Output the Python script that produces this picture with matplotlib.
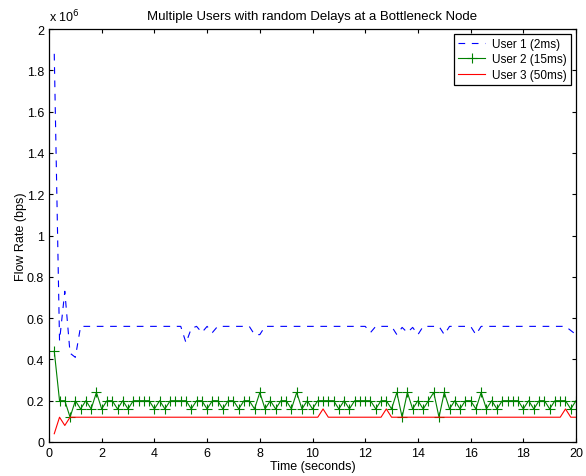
import matplotlib
matplotlib.use('Agg')
import matplotlib.pyplot as plt
import matplotlib.ticker as ticker
import numpy as np

plt.rcParams.update({
    'font.family': ['Liberation Sans', 'DejaVu Sans'],
    'font.size': 9,
    'xtick.direction': 'in',
    'ytick.direction': 'in',
    'xtick.top': True,
    'ytick.right': True,
    'xtick.major.size': 3,
    'ytick.major.size': 3,
    'axes.linewidth': 0.9,
})

# time axis (seconds), one sample every 0.2 s
t = np.round(np.arange(1, 101) * 0.2, 1)

# flow rates in bps
user1 = [1.88e6, 0.49e6, 0.73e6, 0.43e6, 0.41e6] + [0.56e6] * 20 + [
    0.48e6, 0.55e6, 0.56e6, 0.53e6, 0.56e6, 0.53e6] + [0.56e6] * 7 + [
    0.52e6, 0.52e6] + [0.56e6] * 20 + [0.53e6] + [0.56e6] * 4 + [
    0.52e6, 0.555e6, 0.53e6, 0.555e6, 0.52e6] + [0.56e6] * 4 + [
    0.52e6] + [0.56e6] * 5 + [0.52e6] + [0.56e6] * 17 + [0.54e6, 0.52e6]

user2 = [0.44, 0.2, 0.2, 0.12, 0.2, 0.16, 0.2, 0.16, 0.24, 0.16,
         0.2, 0.2, 0.16, 0.2, 0.16, 0.2, 0.2, 0.2, 0.2, 0.16,
         0.2, 0.16, 0.2, 0.2, 0.2, 0.2, 0.16, 0.2, 0.2, 0.16,
         0.2, 0.2, 0.16, 0.2, 0.2, 0.16, 0.2, 0.2, 0.16, 0.24,
         0.16, 0.2, 0.16, 0.2, 0.2, 0.16, 0.24, 0.16, 0.2, 0.16,
         0.2, 0.2, 0.2, 0.2, 0.16, 0.2, 0.16, 0.2, 0.2, 0.2,
         0.2, 0.16, 0.2, 0.2, 0.16, 0.24, 0.12, 0.24, 0.16, 0.2,
         0.16, 0.2, 0.24, 0.12, 0.24, 0.16, 0.2, 0.16, 0.2, 0.2,
         0.16, 0.24, 0.16, 0.2, 0.16, 0.2, 0.2, 0.2, 0.2, 0.16,
         0.2, 0.16, 0.2, 0.2, 0.16, 0.2, 0.2, 0.2, 0.16, 0.2]
user2 = [v * 1e6 for v in user2]

user3 = [0.04e6, 0.12e6, 0.08e6] + [0.12e6] * 48 + [0.16e6] + [
    0.12e6] * 11 + [0.16e6] + [0.12e6] * 33 + [0.16e6, 0.12e6, 0.12e6]

labels = ['User 1 (2ms)', 'User 2 (15ms)', 'User 3 (50ms)']

fig = plt.figure(figsize=(5.86, 4.77), dpi=100)
ax = fig.add_axes([0.0836, 0.0713, 0.8994, 0.8657])

ax.plot(t, user1, color='#0000ff', linestyle=(0, (6, 6)), linewidth=0.8,
        label=labels[0])
ax.plot(t, user2, color='#008000', marker='+', markersize=6.5,
        markeredgewidth=0.8, linewidth=0.8, label=labels[1])
ax.plot(t, user3, color='#ff0000', linewidth=0.8, label=labels[2])

ax.set_xlim(0, 20)
ax.set_ylim(0, 2e6)
ax.xaxis.set_major_locator(ticker.MultipleLocator(2))
ax.yaxis.set_major_locator(ticker.MultipleLocator(0.2e6))
ax.yaxis.set_major_formatter(ticker.FuncFormatter(lambda v, p: '%g' % round(v / 1e6, 1)))
ax.text(0.0, 1.012, r'x 10$^{6}$', transform=ax.transAxes, ha='left',
        va='bottom')

ax.set_title('Multiple Users with random Delays at a Bottleneck Node',
             fontsize=9.5, pad=7)
ax.set_xlabel('Time (seconds)', labelpad=1)
ax.set_ylabel('Flow Rate (bps)', labelpad=0)

leg = ax.legend(loc='upper right', fancybox=False, edgecolor='black',
                framealpha=1, fontsize=8.5, handlelength=2.3,
                borderaxespad=0.4, borderpad=0.35, labelspacing=0.3,
                handletextpad=0.6)
leg.get_frame().set_linewidth(0.9)

plt.savefig('out.png', dpi=100)
